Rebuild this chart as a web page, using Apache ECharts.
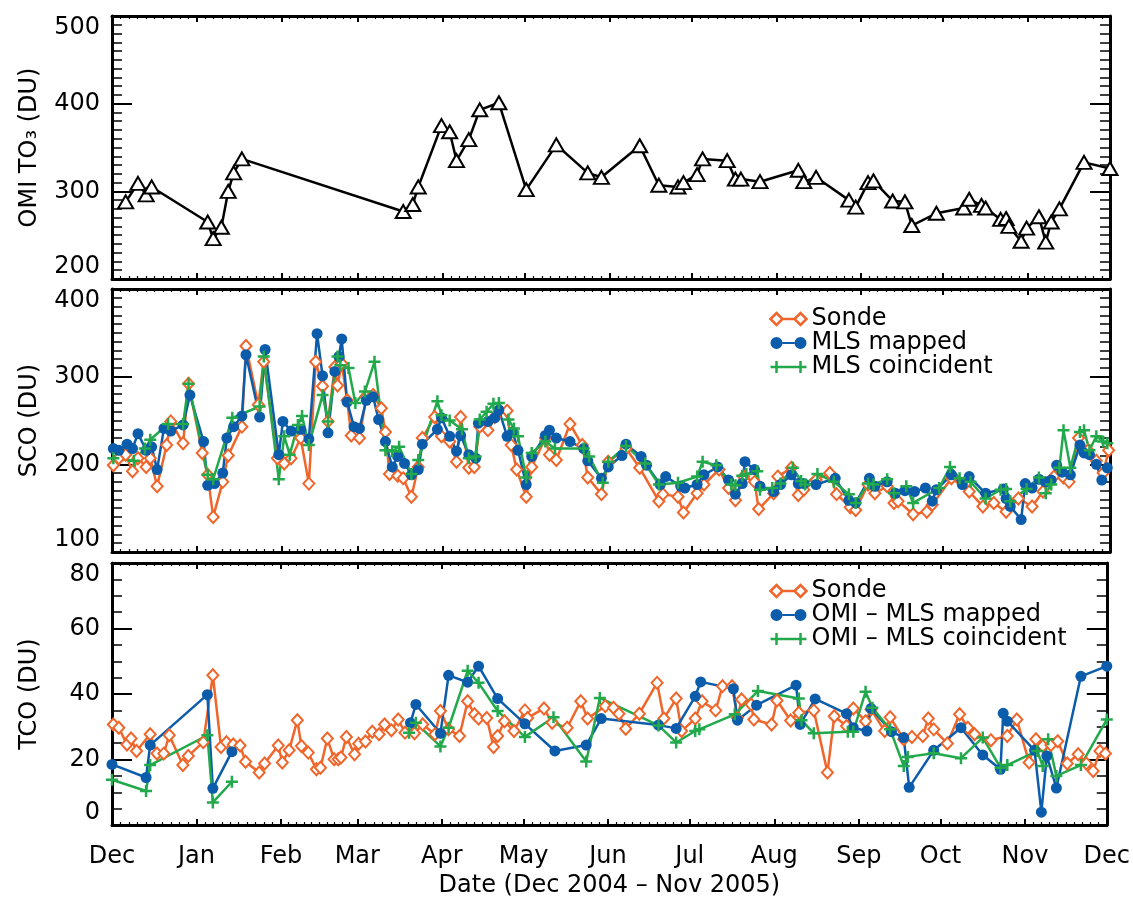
<!DOCTYPE html>
<html>
<head>
<meta charset="utf-8">
<script src="https://cdn.jsdelivr.net/npm/echarts@6/dist/echarts.min.js"></script>
<style>
html, body { margin: 0; padding: 0; background: #fff; }
#chart { width: 1133px; height: 899px; }
</style>
</head>
<body>
<div id="chart"></div>
<script>
// Each point is [day since 1 Dec 2004, value in DU]; null marks a break in the record.
const monthNames = ['Jan', 'Feb', 'Mar', 'Apr', 'May', 'Jun', 'Jul', 'Aug', 'Sep', 'Oct', 'Nov', 'Dec'];

// OMI total column ozone
const omiTO3 = [[5,288],[9.5,309],[12.5,296],[14.5,305],[35,265],[37,246],[40,259],[42.5,300],[44.5,321],[47.5,337],
  [106.5,277],[110,285],[112,305],[120.5,375],[123.5,368],[126,335],[130.5,359],[134.5,393],[141.5,401],[151.5,302],
  [162.5,353],[174,321],[179,316],[193,352],[200,307],[207,305],[209,310],[214,319],[216,337],[225,335],[228,314],
  [230,314],[237,311],[251,324],[253,311],[257.5,316],[269.5,290],[272,282],[276.5,310],[278.5,312],[285.5,289],
  [290,288],[292.5,261],[301.5,275],[311.5,281],[313.5,291],[318,284],[319.5,281],[325,268],[327,269],[328,260],
  [332.5,243],[334.5,258],[339,271],[341.5,242],[343.5,265],[346.5,280],[355.5,333],[365,326]];

// Stratospheric column ozone
const sondeSCO = [[0.5,199],[2.5,207],[5,211],[7.5,192],[9.5,207],[12.5,197],[14,207],[16.5,175],[20,222],[21.5,249],
  [26,224],[28,292],[33,213],[35,188],[37,140],[40.5,180],[42.5,210],[47.5,243],[49,335],[53.5,268],[55.5,317],
  [60.5,207],[63,201],[65.5,207],[69,230],[72,178],[74.5,317],[77,289],[79,249],[81.5,311],[82.5,290],[84,315],
  [86,273],[87.5,233],[90.5,230],[93,277],[95.5,279],[98.5,264],[100,237],[101.5,189],[104.5,187],[106.5,184],
  [109.5,163],[112,197],[113.5,230],[118,254],[120.5,232],[123.5,226],[126,203],[127.5,254],[130.5,196],[132.5,197],
  [134.5,243],[137.5,239],[140,254],[144.5,261],[146,222],[148,194],[151.5,163],[153.5,197],[158.5,230],[160,211],
  [162.5,205],[167.5,246],[172,222],[174,185],[179,166],[181.5,203],[188,218],[193,196],[200,158],[201.5,166],
  [207,163],[209,145],[214,167],[216.5,177],[222,194],[225.5,173],[228,159],[231,186],[235,180],[236.5,149],
  [242,167],[243.5,186],[248.5,196],[251,165],[253,171],[257.5,182],[262.5,190],[265,166],[270,151],[272,148],
  [276.5,177],[279,167],[283.5,175],[286,156],[287.5,158],[293,143],[298,146],[300,154],[307,184],[313.5,169],
  [318.5,152],[322.5,156],[327,146],[331.5,161],[336.5,152],[340.5,169],[344.5,186],[348,185],[350,180],[353.5,230],
  [357,216],[360,204],[362.5,190],[364.5,216]];

const mlsMappedSCO = [[0.5,218],[2.5,216],[5.5,223],[7.5,218],[9.5,235],[12.5,216],[14.5,220],[16.5,194],[19,241],
  [21.5,238],[26,245],[28.5,279],[33.5,226],[35,176],[37.5,178],[40.5,190],[42,230],[44.5,243],[47.5,255],[49,325],
  [54,254],[56,331],[61,211],[62.5,249],[65.5,238],[69,240],[72,229],[75,349],[77,301],[79,236],[81.5,306],[83,323],
  [84,343],[86,271],[88.5,243],[90.5,241],[93,273],[95.5,277],[97.5,251],[100,226],[102.5,197],[104.5,209],[107,201],
  [109.5,188],[112,194],[113.5,223],[119,240],[120.5,253],[123.5,232],[126,215],[127.5,233],[130.5,211],[133,207],
  [134,247],[137.5,249],[140,253],[141.5,262],[144.5,232],[146.5,237],[148.5,216],[151.5,177],[153.5,209],[158.5,233],
  [160,239],[162.5,230],[167.5,226],[172.5,218],[174,204],[179,184],[181.5,197],[186.5,210],[188,223],[193.5,209],
  [195.5,199],[200.5,177],[202.5,186],[208,175],[209.5,173],[214,177],[216.5,188],[221.5,197],[225.5,182],[228,166],
  [230.5,178],[231.5,203],[235,194],[237,175],[242,169],[244.5,177],[248.5,188],[251,178],[253,178],[257.5,177],
  [264.5,184],[269.5,159],[272,156],[277,184],[279,175],[283.5,180],[286.5,167],[290,170],[293.5,169],[297.5,173],
  [300,158],[301.5,171],[307,188],[311,177],[313.5,186],[319.5,167],[326,172],[327,161],[328.5,152],[332.5,137],
  [334,178],[336.5,173],[339,183],[341.5,180],[343.5,182],[345.5,199],[347.5,191],[350.5,188],[354,222],[355.5,213],
  [357.5,211],[360,200],[362,182],[364,196]];

const mlsCoincSCO = [[0.5,207],[8,204],[12,218],[14,228],[20.5,246],[26,246],[28,292],[35,188],[37,183],[44,253],
  [54,266],[55.5,323],[61,183],[63,232],[65,211],[68,245],[69.5,255],[72,222],[77,279],[79,249],[82.5,323],[83.5,313],
  [86.5,310],[89,270],[92.5,283],[96,317],[100,216],[102.5,215],[105,220],[109.5,189],[112,205],[119,272],[120.5,256],
  [123.5,250],[128,240],[130.5,207],[133,209],[134.5,251],[137,260],[139.5,269],[141.5,270],[145,251],[147,241],
  [148.5,232],[151.5,185],[153.5,213],[158.5,226],[162,218],[172.5,218],[174.5,209],[179.5,179],[181.5,203],[188,221],
  [195,201],[200,177],[207,179],[214,186],[216,203],[221,199],[226.5,177],[228,176],[230.5,187],[232,189],[236,192],
  [237,171],[241.5,173],[244.5,178],[249,196],[252,181],[253.5,177],[258,189],[264,180],[269.5,166],[272,156],
  [276.5,178],[278.5,177],[283.5,183],[286,167],[290.5,175],[293,156],[302.5,173],[306.5,197],[310,184],[314,180],
  [319.5,161],[325,171],[327,172],[328.5,158],[334.5,172],[339,185],[341.5,167],[343.5,177],[346.5,196],[348,239],
  [350.5,196],[354,237],[355.5,239],[357.5,216],[360,232],[362.5,226],[364,224]];

// Tropospheric column ozone
const sondeTCO = [[0.5,30.7],[2.5,29.7],[5.5,24.6],[7,26.4],[9,22.6],[14,27.7],[16.5,21.8],[19,21.8],[21,27.4],
  [26,18.3],[28,21.1],[33.5,25.3],[37,45.7],[40,23.8],[42,25.3],[44.5,24.6],[47,24.3],[49,19.3],[54,16],[56,18.8],
  [61,24.3],[62.5,19.1],[65,22.8],[68,32],[69.5,24.1],[72,22.1],[75,17],[76.5,17.5],[79,26.4],[81.5,20.1],[83,20.1],
  [84,20.6],[86,26.9],[89,21.6],[90.5,24.8],[93,25.5],[95.5,28.5],[98,27.7],[100,30.7],[102.5,28.9],[105,32.2],
  [107.5,28.2],[111,28],[114,30.7],[118.5,27.7],[120.5,34.8],[123.5,29.2],[127.5,27.2],[130.5,37.8],[133,33.8],
  [134.5,32.5],[137.5,32.7],[140,23.8],[141.5,27.2],[144,31.7],[147.5,28.7],[151.5,35],[152.5,32.7],[158.5,35.6],
  [161.5,31.2],[167,29.7],[172,37.8],[174.5,32.5],[181,36.3],[184,35.8],[186,34],[188.5,29.4],[193.5,34],[200,43.4],
  [202.5,32.5],[207,38.6],[209,28.7],[214,32.5],[216.5,37.8],[221.5,35],[224,42.4],[227.5,42.4],[229.5,32.7],
  [231,38.3],[234.5,36.8],[235.5,32.2],[242,30.7],[244,38],[249,31.9],[252,34.3],[257.5,35],[262.5,16],[265,33.2],
  [269.5,30.2],[272,35.6],[276.5,31.7],[278.5,35.3],[283.5,28.7],[285.5,32.9],[290.5,26.2],[293.5,26.9],[297.5,27.2],
  [299.5,32.5],[301.5,29.2],[306.5,24.9],[311,33.8],[314,29.7],[316.5,27.7],[322.5,25.9],[328.5,27.2],[332,32.2],
  [336.5,19.1],[339,26.2],[341.5,24.1],[344.5,24.4],[347,25.6],[350.5,18.8],[354.5,21.6],[357.5,18.8],[360,16.5],
  [362.5,22.6],[364.5,21.8]];

const omiMlsMappedTCO = [[0,18.5],[12.5,14.5],[14,24.4],[35,39.8],[37,11.2],[44,22.4],[76,null],[109.5,31.2],
  [111.5,36.8],[120.5,28],[123.5,45.7],[130.5,43.6],[134.5,48.5],[141.5,38.6],[151.5,30.9],[162.5,22.6],[174,24.4],
  [179.5,32.5],[200.5,30.5],[207,29.5],[214,39.3],[216,43.7],[228,41.6],[229.5,32],[236.5,36.6],[251,42.7],
  [252.5,30.7],[258,38.5],[269.5,34],[272,29.7],[277,28.7],[278.5,35.6],[286,28.5],[290.5,26.7],[292.5,11.5],
  [301.5,22.8],[311.5,29.7],[319.5,21.4],[326,17],[327,34.1],[328.5,31.7],[338.5,22.8],[341,3.9],[343,21.1],
  [346.5,11.3],[355.5,45.4],[365,48.5]];

const omiMlsCoincTCO = [[0,13.8],[12.5,10.4],[14,18.3],[35,27.4],[37,6.9],[44,13.2],[76,null],[109,28.2],[111.5,31.2],
  [120.5,24],[123.5,29.7],[130.5,47.1],[134.5,43.4],[141.5,34.8],[151.5,26.9],[162,32.9],[174,19.4],[179,38.8],
  [200.5,30.4],[207,25.2],[214,28.7],[215.5,29.2],[228.5,33.8],[237,40.9],[252,38.6],[253,32],[257.5,28],[270,28.5],
  [272,28.5],[276.5,40.7],[279,35.8],[285.5,29.2],[290.5,18],[292,20.8],[301.5,21.9],[311.5,20.4],[319.5,26.7],
  [326,17.5],[328.5,18.3],[339.5,22.6],[341.5,18],[343.5,26.2],[346.5,15],[355.5,18.3],[365,32.2]];

const DAY = 86400000;
const t0 = new Date(2004, 11, 1).getTime();
const tMin = t0;
const tMax = new Date(2005, 11, 1).getTime();
const toSeriesData = pts => pts.map(([d, v]) => [t0 + d * DAY, v == null ? '-' : v]);

const FONT = 'DejaVu Sans';
const txt = { fontFamily: FONT, fontSize: 24, color: '#000' };
const ORANGE = '#F0652A', BLUE = '#0B5CAB', GREEN = '#22A94B';
const LW = 2.5;

const grids = [
  { left: 112, width: 998, top: 16, height: 263 },
  { left: 112, width: 998, top: 289, height: 263 },
  { left: 112, width: 998, top: 563, height: 263 }
];

function xAxesFor(g, withLabels) {
  const base = {
    type: 'time', gridIndex: g, min: tMin, max: tMax, splitNumber: 12,
    splitLine: { show: false },
    axisLine: { show: true, onZero: false, lineStyle: { color: '#000', width: 3 } },
    axisTick: { show: true, inside: true, length: 6, lineStyle: { color: '#000', width: 2 } },
    minorTick: { show: true, splitNumber: 10, length: 3, lineStyle: { color: '#000', width: 1.2 } },
    minorSplitLine: { show: false }
  };
  const bottom = Object.assign({}, base, {
    position: 'bottom',
    axisLabel: withLabels ? Object.assign({}, txt, {
      margin: 20, showMinLabel: true, showMaxLabel: true,
      formatter: v => monthNames[new Date(v).getMonth()]
    }) : { show: false }
  });
  if (withLabels) {
    bottom.name = 'Date (Dec 2004 \u2013 Nov 2005)';
    bottom.nameLocation = 'middle';
    bottom.nameGap = 49;
    bottom.nameTextStyle = Object.assign({}, txt);
  }
  const top = Object.assign({}, base, { position: 'top', axisLabel: { show: false } });
  return [bottom, top];
}

function yAxesFor(g, min, max, interval, minorSplit, name) {
  const base = {
    type: 'value', gridIndex: g, min: min, max: max, interval: interval,
    splitLine: { show: false },
    axisLine: { show: true, onZero: false, lineStyle: { color: '#000', width: 3 } },
    axisTick: { show: true, inside: true, length: 20, lineStyle: { color: '#000', width: 2 } },
    minorTick: { show: true, splitNumber: minorSplit, length: 10, lineStyle: { color: '#000', width: 1.5 } },
    minorSplitLine: { show: false }
  };
  const left = Object.assign({}, base, {
    position: 'left', name: name, nameLocation: 'middle', nameGap: 70,
    nameTextStyle: Object.assign({}, txt),
    axisLabel: Object.assign({}, txt, { margin: 12, verticalAlignMinLabel: 'bottom', verticalAlignMaxLabel: 'top' })
  });
  const right = Object.assign({}, base, { position: 'right', axisLabel: { show: false } });
  return [left, right];
}

const plusSymbol = 'path://M0 6L12 6M6 0L6 12';

function line(name, pts, g, color, symbol, size, filled) {
  return {
    type: 'line', name: name, xAxisIndex: g * 2, yAxisIndex: g * 2,
    data: toSeriesData(pts), connectNulls: false, showAllSymbol: true,
    symbol: symbol, symbolSize: size,
    lineStyle: { color: color, width: LW },
    itemStyle: filled
      ? { color: color, borderWidth: 0 }
      : { color: color, borderColor: color, borderWidth: LW },
    emphasis: { disabled: true }, animation: false
  };
}

const iconDiamonds = 'path://M0 6L6 0L12 6L6 12ZM12 6L24 6M24 6L30 0L36 6L30 12Z';
const iconDots = 'path://M0 6A6 6 0 1 1 12 6A6 6 0 1 1 0 6ZM12 5L24 5L24 7L12 7ZM24 6A6 6 0 1 1 36 6A6 6 0 1 1 24 6Z';
const iconPlus = 'path://M0 6L36 6M6 0L6 12M30 0L30 12';

function legendFor(top, names) {
  return {
    left: 768, top: top, orient: 'vertical', padding: 0, itemGap: 0,
    itemWidth: 36, itemHeight: 12, selectedMode: false,
    textStyle: Object.assign({}, txt, { lineHeight: 22 }),
    data: [
      { name: names[0], icon: iconDiamonds, itemStyle: { color: '#fff', borderColor: ORANGE, borderWidth: LW } },
      { name: names[1], icon: iconDots, itemStyle: { color: BLUE, borderColor: BLUE, borderWidth: 0 } },
      { name: names[2], icon: iconPlus, itemStyle: { color: 'none', borderColor: GREEN, borderWidth: LW } }
    ]
  };
}

const option = {
  backgroundColor: '#fff',
  animation: false,
  grid: grids,
  xAxis: [].concat(xAxesFor(0, false), xAxesFor(1, false), xAxesFor(2, true)),
  yAxis: [].concat(
    yAxesFor(0, 200, 500, 100, 10, 'OMI TO\u2083 (DU)'),
    yAxesFor(1, 100, 400, 100, 10, 'SCO (DU)'),
    yAxesFor(2, 0, 80, 20, 4, 'TCO (DU)')
  ),
  legend: [
    legendFor(307, ['Sonde', 'MLS mapped', 'MLS coincident']),
    legendFor(579, ['Sonde', 'OMI \u2013 MLS mapped', 'OMI \u2013 MLS coincident'])
  ],
  series: [
    line('OMI TO3', omiTO3, 0, '#000', 'emptyTriangle', [15, 13], false),
    line('Sonde', sondeSCO, 1, ORANGE, 'emptyDiamond', [11, 12], false),
    line('MLS mapped', mlsMappedSCO, 1, BLUE, 'circle', 11, true),
    line('MLS coincident', mlsCoincSCO, 1, GREEN, plusSymbol, 12, false),
    line('Sonde', sondeTCO, 2, ORANGE, 'emptyDiamond', [11, 12], false),
    line('OMI \u2013 MLS mapped', omiMlsMappedTCO, 2, BLUE, 'circle', 11, true),
    line('OMI \u2013 MLS coincident', omiMlsCoincTCO, 2, GREEN, plusSymbol, 12, false)
  ]
};

const chart = echarts.init(document.getElementById('chart'), null, { renderer: 'canvas' });
chart.setOption(option);
</script>
</body>
</html>
